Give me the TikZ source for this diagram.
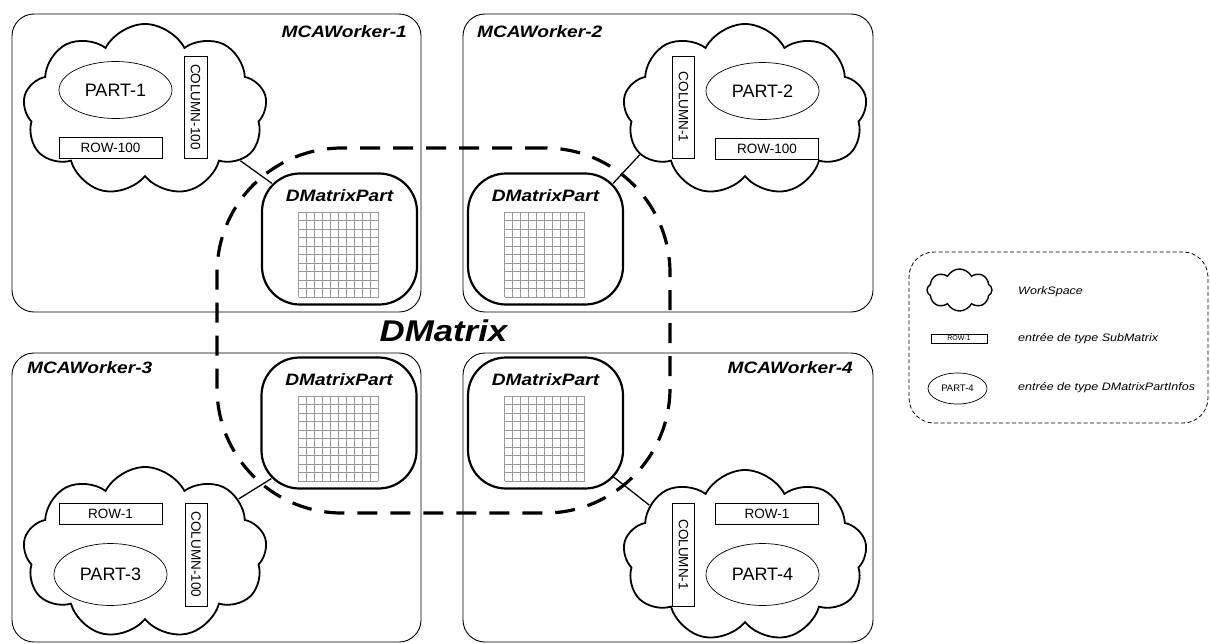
\documentclass[tikz,border=0pt]{standalone}
\usepackage{fontspec}
\setmainfont{Liberation Sans}
\newfontfamily\widefont[FakeStretch=1.16]{Liberation Sans}
\usetikzlibrary{positioning,shapes.geometric,shapes.symbols}
\tikzset{
    worker/.style={draw,rounded corners=22pt,line width=0.9pt,inner sep=0pt},
    workspace/.style={cloud,draw,line width=1.8pt,cloud puffs=9,cloud puff arc=125,cloud ignores aspect,inner sep=0pt,minimum width=244pt,minimum height=172pt},
    partinfo/.style={ellipse,draw,line width=0.7pt,inner sep=0pt,minimum width=113pt,minimum height=57pt,font=\fontsize{18}{20}\selectfont},
    submatrix/.style={rectangle,draw,line width=0.8pt,inner sep=0pt,font=\fontsize{13.5}{15}\selectfont},
    dmpart/.style={draw,rounded corners=38pt,line width=2.2pt,minimum width=155pt,minimum height=131pt},
    wlabel/.style={inner sep=0pt,font=\widefont\bfseries\itshape\fontsize{16.5}{18}\selectfont},
    gridline/.style={gray!80,line width=0.5pt},
    link/.style={line width=1.3pt},
    dmatrix/.style={draw,dash pattern=on 20pt off 13pt,line width=3.2pt,rounded corners=125pt,font=\widefont\bfseries\itshape\fontsize{30}{34}\selectfont},
    legendbox/.style={draw,dash pattern=on 4pt off 2.5pt,line width=0.8pt,rounded corners=25pt},
    legendtext/.style={anchor=west,inner sep=0pt,font=\widefont\itshape\fontsize{10.8}{13}\selectfont}
}

\begin{document}
\begin{tikzpicture}[x=1pt,y=-1pt]
    \useasboundingbox (0,0) rectangle (1210,643);
    % workers
    \node[worker,minimum width=409pt,minimum height=298pt] (worker1) at (216.5,163) {};
    \node[worker,minimum width=410pt,minimum height=298pt] (worker2) at (668,163) {};
    \node[worker,minimum width=409pt,minimum height=289pt] (worker3) at (216.5,497.5) {};
    \node[worker,minimum width=410pt,minimum height=289pt] (worker4) at (668,497.5) {};
    \node[wlabel,anchor=east] (worker1-name) at (407,31.5) {MCAWorker-1};
    \node[wlabel,anchor=west] (worker2-name) at (477,31.5) {MCAWorker-2};
    \node[wlabel,anchor=west] (worker3-name) at (27,367.5) {MCAWorker-3};
    \node[wlabel,anchor=east] (worker4-name) at (853,367.5) {MCAWorker-4};
    % workspaces
    \node[workspace] (space1) at (145,110) {};
    \node[workspace] (space2) at (745,110) {};
    \node[workspace] (space3) at (145,553) {};
    \node[workspace] (space4) at (745,556) {};
    \node[partinfo] (part1) at (115.5,90) {PART-1};
    \node[partinfo] (part2) at (762.5,91) {PART-2};
    \node[partinfo,minimum height=62pt] (part3) at (110.5,574.5) {PART-3};
    \node[partinfo,minimum height=62pt] (part4) at (762.5,574.5) {PART-4};
    \node[submatrix,minimum width=103pt,minimum height=21pt] (row1) at (110.5,147.5) {ROW-100};
    \node[submatrix,minimum width=103pt,minimum height=21pt] (row2) at (767,148.5) {ROW-100};
    \node[submatrix,minimum width=103pt,minimum height=21pt] (row3) at (110.5,513.5) {ROW-1};
    \node[submatrix,minimum width=103pt,minimum height=21pt] (row4) at (767,513.5) {ROW-1};
    \node[submatrix,rotate=-90,minimum width=102pt,minimum height=23pt] (col1) at (195.5,107) {COLUMN-100};
    \node[submatrix,rotate=-90,minimum width=102pt,minimum height=22pt] (col2) at (683.5,107) {COLUMN-1};
    \node[submatrix,rotate=-90,minimum width=103pt,minimum height=22pt] (col3) at (196,554.5) {COLUMN-100};
    \node[submatrix,rotate=-90,minimum width=103pt,minimum height=22pt] (col4) at (683.5,554.5) {COLUMN-1};
    % matrix parts
    \node[dmpart] (dmp1) at (339.5,239) {};
    \node[dmpart] (dmp2) at (545.5,239) {};
    \node[dmpart] (dmp3) at (339,423) {};
    \node[dmpart] (dmp4) at (545.5,423) {};
    \foreach \p in {dmp1,dmp2,dmp3,dmp4}{
        \node[wlabel] (\p-name) at ([yshift=-23pt]\p.north) {DMatrixPart};
        \foreach \k in {0,...,10}{
            \draw[gridline] ([shift={(-41+8*\k,-27)}]\p.center) -- ++(0,85);
            \draw[gridline] ([shift={(-41,-27+8.5*\k)}]\p.center) -- ++(80,0);
        }
    }
    \draw[link] (space1.-28) -- ([shift={(11,11)}]dmp1.north west);
    \draw[link] (space2.-157) -- ([shift={(-11,11)}]dmp2.north east);
    \draw[link] (space3.30) -- ([shift={(11,-11)}]dmp3.south west);
    \draw[link] (space4.152) -- ([shift={(-11,-13)}]dmp4.south east);
    % the distributed matrix
    \node[dmatrix,minimum width=453pt,minimum height=365pt] (dmatrix) at (443.5,330.5) {DMatrix};
    % legend
    \node[legendbox,minimum width=299pt,minimum height=171pt] (legend) at (1058.5,337.5) {};
    \node[workspace,minimum width=65pt,minimum height=42pt,cloud puffs=8,line width=1.4pt] (key-space) at (959.5,290) {};
    \node[submatrix,minimum width=56pt,minimum height=9pt,line width=0.6pt,font=\fontsize{7}{8}\selectfont] (key-row) at (959,338.5) {ROW-1};
    \node[partinfo,minimum width=59pt,minimum height=31pt,font=\fontsize{9.5}{11}\selectfont] (key-part) at (957.5,388.5) {PART-4};
    \node[legendtext] (key-space-text) at (1018,292) {WorkSpace};
    \node[legendtext] (key-row-text) at (1018,339) {entrée de type SubMatrix};
    \node[legendtext] (key-part-text) at (1018,388) {entrée de type DMatrixPartInfos};
\end{tikzpicture}
\end{document}
